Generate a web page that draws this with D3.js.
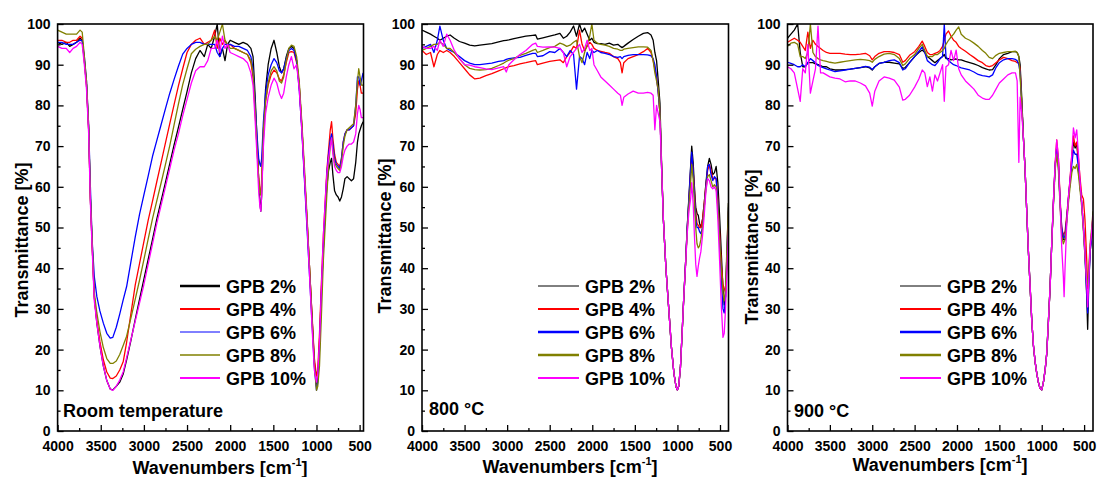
<!DOCTYPE html>
<html>
<head>
<meta charset="utf-8">
<script src="https://cdn.jsdelivr.net/npm/d3@7"></script>
<style>
  body { margin: 0; background: #fff; }
  svg text { font-family: "Liberation Sans", Arial, sans-serif; font-weight: bold; fill: #000; }
</style>
</head>
<body>
<svg id="chart" width="1099" height="477"></svg>
<script>
// ---- data ----
const seriesLabels = ["GPB 2%", "GPB 4%", "GPB 6%", "GPB 8%", "GPB 10%"];
const xTicks = [4000, 3500, 3000, 2500, 2000, 1500, 1000, 500];
const xMinorTicks = [3750, 3250, 2750, 2250, 1750, 1250, 750];
const yTicks = [0, 10, 20, 30, 40, 50, 60, 70, 80, 90, 100];
const yMinorTicks = [5, 15, 25, 35, 45, 55, 65, 75, 85, 95];

// room temperature
const rtWavenumbers = [
  4000, 3950, 3900, 3860, 3820, 3780, 3740, 3715, 3690, 3665,
  3640, 3620, 3600, 3575, 3545, 3510, 3470, 3430, 3390, 3360,
  3320, 3280, 3240, 3200, 3150, 3100, 3050, 3000, 2950, 2900,
  2850, 2800, 2750, 2700, 2650, 2600, 2550, 2500, 2450, 2400,
  2350, 2300, 2260, 2220, 2180, 2150, 2120, 2090, 2060, 2030,
  2000, 1950, 1900, 1850, 1800, 1760, 1735, 1710, 1690, 1670,
  1655, 1645, 1635, 1615, 1590, 1560, 1525, 1492, 1460, 1430,
  1405, 1380, 1350, 1320, 1290, 1260, 1230, 1200, 1170, 1140,
  1110, 1080, 1050, 1025, 1000, 985, 965, 940, 920, 900,
  880, 860, 840, 825, 810, 790, 770, 750, 730, 710,
  690, 670, 645, 620, 595, 570, 545, 525, 510, 495,
  480, 460];
const rtGPB2 = [
  95.5, 95, 95.5, 94.5, 95, 95.5, 96.5, 96, 91, 85,
  74, 57, 46, 33, 26.5, 21, 16, 12.4, 10.3, 10.1,
  11, 12, 14, 17.5, 22.3, 27.4, 32.4, 37.3, 42.2, 47.1,
  52.1, 56.6, 61.1, 65.7, 70.3, 74.6, 79, 83.4, 88, 91.5,
  93.5, 92, 95, 94, 97, 100, 92, 94, 91, 95,
  96, 95.5, 95, 95.5, 95, 94, 92, 82, 72, 62,
  56, 54, 58, 72, 84, 90, 94, 96, 93, 89.5,
  88, 89, 92, 94, 94.5, 94, 91, 85, 75, 63,
  52, 40, 27.5, 17, 11, 13, 22, 36, 45, 53.5,
  60, 64, 66, 67, 63, 59, 58, 57.5, 56.5, 57.5,
  59.5, 62, 62.5, 62, 61.5, 62, 66, 71, 73, 74,
  75, 76];
const rtGPB4 = [
  96, 96, 95.5, 95.5, 96, 96, 97, 96.5, 91, 85,
  74, 57, 46, 33, 27, 22, 17.5, 14.5, 13, 12.9,
  13.5, 15, 17, 21.8, 28.9, 35.9, 41.2, 46.5, 51.8, 56.5,
  61.3, 66, 70.8, 75.5, 80.2, 84.8, 89, 93, 95, 96,
  96.5, 95, 95.5, 96, 98.5, 94, 96.5, 95, 96, 94.5,
  95, 94, 93.5, 93, 92.5, 90.5, 87, 78, 70, 62,
  59, 58, 62, 74, 81, 85, 87.5, 88.7, 88, 86.5,
  86, 87.5, 90.5, 93, 93.2, 93, 90.5, 85, 75, 63.5,
  52, 40, 28, 18, 13.5, 15, 24, 38, 48, 56,
  64, 69, 74, 76, 72, 68, 66, 65.5, 65, 67,
  71, 73, 74, 74, 74.5, 75, 78, 84, 86, 85,
  83, 83];
const rtGPB6 = [
  95.5, 95.5, 95, 95, 95, 95.5, 96, 96, 92, 86,
  75, 60, 47, 38, 33, 29.5, 26.5, 24, 22.8, 23,
  25.5, 28.7, 32.2, 35.5, 41.6, 47.7, 53.3, 58, 62.7, 67.5,
  71.4, 75.3, 79.2, 83, 86.4, 89.6, 92.6, 94, 95, 95.5,
  95.5, 95, 95, 95, 95, 93, 92, 94, 95, 95,
  95, 94.5, 94.5, 94, 93.5, 92, 89, 80, 73, 67,
  65.5, 65, 67, 76, 83, 87.5, 90, 91.5, 90.5, 88.5,
  88, 89, 91.5, 93.5, 94, 93.5, 91, 84, 74, 62,
  50, 38, 26, 16, 10, 12, 20, 35, 45, 54,
  63, 68, 71.5, 73, 70.5, 67, 65.5, 65, 64.5, 67,
  71, 73, 74, 74, 74.5, 75, 80, 87, 87, 85,
  86, 88];
const rtGPB8 = [
  98.5, 98, 97.5, 97.5, 97.5, 97.5, 98.5, 98, 92, 86,
  75, 58, 47, 34, 29, 24.5, 20.5, 17.8, 16.6, 16.6,
  17.2, 18.8, 21, 23.3, 27.8, 32.4, 37.1, 42.1, 47.2, 52.2,
  56.6, 61, 65.5, 70.1, 75.2, 80.3, 85.1, 89, 92.7, 93.8,
  94.5, 95, 95, 96, 97, 96, 98, 100, 96, 95,
  94, 94, 93.5, 93, 92.5, 91, 88, 79, 70, 62,
  58.5, 58, 61, 74, 81, 85.5, 88.5, 89.5, 88.5, 86,
  85.5, 87, 91, 94, 94.8, 94.5, 92, 86, 76, 65,
  53, 40, 27, 16.5, 10, 11, 16, 30, 42, 50,
  58, 65, 70, 72, 69, 66, 65, 64.5, 64, 66,
  70, 72.5, 74, 74.5, 75, 75.5, 80, 86, 89, 87,
  85, 85];
const rtGPB10 = [
  94.5, 94, 94, 93, 94, 94.5, 95.5, 95, 90, 84,
  73, 56, 45, 32, 26.5, 21, 16, 12.4, 10.3, 10,
  11, 12.5, 14.5, 18, 22.5, 27, 31.5, 36, 41, 46,
  51, 55.5, 60, 64.5, 69, 73, 77.5, 81.5, 85.5, 88.5,
  89.5, 89.5, 91, 94, 94, 96, 93, 97, 94, 95,
  93, 92.5, 92, 91.5, 90.5, 88, 85, 76, 68, 59,
  55, 54, 58, 70, 78, 82, 85, 86.7, 85.5, 83,
  81.7, 83, 87, 90, 92, 89, 90, 84, 74, 63,
  51, 38, 25, 15, 12, 14, 22, 37, 48, 56,
  63, 67, 70, 72, 68, 65, 64, 63.5, 63.5, 65,
  67.5, 69, 70, 70.5, 70.5, 71, 73, 78, 80, 79,
  77, 77];

// 800 °C
const hwWavenumbers = [
  4000, 3950, 3900, 3860, 3820, 3790, 3750, 3710, 3670, 3620,
  3560, 3500, 3440, 3380, 3320, 3250, 3180, 3100, 3040, 3010,
  2980, 2920, 2850, 2780, 2700, 2665, 2645, 2580, 2500, 2440,
  2380, 2340, 2300, 2260, 2220, 2185, 2150, 2120, 2090, 2060,
  2030, 2005, 1980, 1940, 1900, 1850, 1800, 1750, 1700, 1670,
  1650, 1630, 1580, 1520, 1460, 1400, 1350, 1310, 1285, 1265,
  1245, 1225, 1205, 1185, 1165, 1135, 1105, 1070, 1040, 1015,
  1000, 985, 965, 945, 925, 905, 885, 865, 845, 832,
  815, 800, 785, 770, 755, 740, 725, 705, 685, 665,
  645, 625, 605, 585, 565, 545, 525, 505, 485, 465,
  450, 435, 420, 400];
const hwGPB2 = [
  98.5, 98, 97.5, 97, 96.5, 96, 96.5, 97, 97.3, 96.5,
  95.7, 95.3, 94.8, 94.6, 94.8, 95, 95.2, 95.6, 95.9, 96,
  96.1, 96.4, 96.7, 97, 97.2, 97.3, 96.3, 96.6, 97, 97.3,
  97.7, 96.5, 97, 98, 99.5, 97, 100, 98, 99, 97.5,
  96, 96.5, 95.5, 95.2, 95.2, 95, 95.3, 94.8, 95, 94.5,
  94.2, 94.5, 95.3, 96.2, 97, 97.7, 97.9, 97.3, 96, 93,
  91, 86, 80.5, 65, 52, 40, 31, 20.5, 14, 10.8,
  10.1, 11, 15.5, 24, 33, 41, 50, 57.5, 65, 70,
  66, 60, 55, 53.5, 53, 51, 50, 52, 56, 61,
  65, 67, 65.5, 63, 63.5, 65, 61, 53, 44, 35,
  31, 33, 43, 56];
const hwGPB4 = [
  93.5, 92.5, 93, 89.5, 92.5, 93.5, 93, 93.5, 93, 92,
  90.5, 89, 87.5, 86.5, 86.7, 87.3, 87.8, 88.5, 89, 89.3,
  89.5, 89.8, 90.2, 90.5, 90.9, 91, 90, 90.4, 90.8, 91,
  91.2, 90.5, 92, 93, 94.5, 94, 98.5, 95, 93.5, 94.5,
  95.5, 95, 94, 93.5, 93.3, 93, 92.8, 92, 91.5, 90.5,
  88, 90.5, 91.5, 92, 92.5, 93.2, 94, 93, 91, 89,
  87, 83, 78, 64.5, 52, 40, 31, 20.5, 14, 10.8,
  10.1, 11, 15.5, 24, 33, 41, 49.5, 56.5, 63.5, 67.5,
  64, 59, 54, 51, 50.5, 50, 50, 52, 56, 60.5,
  64, 65.5, 64, 62, 62, 62, 57, 49, 41, 36,
  35, 34, 40, 54];
const hwGPB6 = [
  94, 94.5, 95, 93, 96, 99.5, 96, 94, 93.5, 93,
  92, 91, 90.4, 90, 90, 90.2, 90.4, 90.8, 91, 91.3,
  91.5, 91.7, 91.8, 92.3, 92.8, 92.8, 92, 92.2, 93.2, 93,
  94, 93, 92, 93.5, 92.5, 84, 92, 91.5, 90, 93,
  91.5, 93.5, 93, 93.5, 93, 92.8, 92.5, 92, 91.8, 92,
  91.5, 92, 92.3, 92.5, 92.5, 92.5, 92.4, 92.2, 91.5, 90,
  87, 83, 78, 64, 52, 40, 31, 20.5, 14, 10.8,
  10.1, 11, 15.5, 24, 33, 41, 50, 57, 64.5, 68.5,
  64, 58, 52, 50, 50, 49, 48.5, 50, 55, 60,
  65, 65.5, 63, 61.5, 62.5, 62, 56, 47, 38, 30,
  29, 33, 42, 55];
const hwGPB8 = [
  93.5, 94, 94.5, 95, 95, 95.5, 95, 94, 94, 93,
  91.5, 90, 89.1, 88.8, 88.7, 88.8, 89.1, 89.8, 90.4, 90.8,
  91.1, 91.5, 92.3, 92.8, 93.5, 93.8, 93, 93.5, 94.2, 94.5,
  95.3, 95, 94.5, 94.8, 95.5, 96, 92, 90.5, 93, 95,
  97, 100, 96, 95.3, 95, 94.8, 94.5, 94, 93.8, 93.5,
  93.5, 93.8, 94, 94.2, 94.4, 94.4, 94.3, 93.5, 91, 88,
  86, 84, 78, 64, 52, 40, 31, 20.5, 14, 10.8,
  10.1, 11, 15.5, 24, 33, 40.5, 49, 55.5, 61, 65.5,
  62, 56, 50, 46, 45, 45.5, 47, 50, 55, 59.5,
  62.5, 63, 61.5, 60, 60.5, 60, 55, 47, 40, 34,
  32, 35, 44, 56];
const hwGPB10 = [
  94.5, 94, 94, 94.5, 93.5, 96, 94.5, 97.5, 96, 93.5,
  91.5, 90, 89.9, 89.5, 89.3, 89, 88.8, 89.2, 89.5, 88.2,
  90, 91.2, 92.5, 93.5, 95, 95.3, 94.5, 94.3, 94.4, 94.3,
  94, 93, 89.5, 92, 93, 94, 95, 93, 94, 96,
  93.5, 94, 90, 88.5, 87, 86, 85, 84, 83, 82.5,
  80, 82, 82.8, 83.5, 83, 83, 83.2, 83, 82.5, 74,
  80, 78, 76, 64, 52, 40, 31, 20.5, 14, 10.8,
  10.1, 11, 15.5, 24, 33, 40.5, 48.5, 54, 57, 61,
  56, 48, 41, 38, 40.5, 42.5, 44, 48, 53, 59,
  62, 61.5, 60, 59.5, 60, 59, 52, 42, 31, 23,
  24, 30, 38, 50];

// 900 °C
const htWavenumbers = [
  4000, 3960, 3920, 3880, 3850, 3820, 3790, 3760, 3730, 3700,
  3670, 3640, 3610, 3580, 3540, 3500, 3440, 3380, 3320, 3260,
  3200, 3140, 3080, 3030, 3000, 2970, 2920, 2860, 2800, 2740,
  2680, 2640, 2610, 2560, 2500, 2450, 2410, 2380, 2350, 2320,
  2290, 2260, 2230, 2200, 2170, 2150, 2130, 2100, 2070, 2040,
  2010, 1980, 1950, 1900, 1850, 1800, 1750, 1700, 1660, 1620,
  1580, 1540, 1500, 1450, 1400, 1350, 1310, 1290, 1270, 1255,
  1236, 1216, 1196, 1177, 1157, 1137, 1118, 1098, 1078, 1059,
  1040, 1020, 1000, 980, 960, 941, 921, 901, 882, 862,
  842, 823, 803, 783, 764, 745, 736, 725, 705, 685,
  665, 645, 626, 606, 587, 567, 547, 528, 508, 490,
  469, 458, 445, 429, 410, 395];
const htGPB2 = [
  96.5, 97.5, 98.5, 100, 93, 89.5, 89.5, 90.5, 90.5, 90.5,
  90.2, 90, 89.8, 89.5, 89.5, 89, 88.7, 88.7, 88.8, 88.9,
  89.1, 89.3, 89.5, 89.2, 88.7, 89.5, 90.3, 90.6, 90.6, 90.4,
  90.2, 89.1, 89.3, 90.5, 92, 93, 93.6, 93, 92, 91.5,
  91, 90.5, 91, 91.5, 92, 92.5, 91.5, 91.5, 91.2, 91.3,
  91.4, 91.2, 91.2, 90.8, 90.5, 90.2, 89.8, 89.3, 89, 88.7,
  88.8, 90, 91.5, 92.5, 92.8, 93.2, 93.2, 93, 92, 90,
  82, 72, 64, 54, 44, 35.5, 27.3, 21, 17, 14.2,
  12, 10.5, 10.1, 12, 15, 19, 27, 35.5, 46, 56,
  65, 70, 66, 56, 49, 47, 47, 47, 52, 57,
  61.5, 67, 71, 69.5, 70.5, 66, 60, 56, 50, 44,
  33, 25, 36, 44, 48, 52];
const htGPB4 = [
  95.5, 96, 96.5, 96, 95.5, 94.5, 93.5, 98, 94, 96,
  95, 94.5, 94, 93.5, 93, 92.8, 92.8, 92.8, 92.6, 92.5,
  92.5, 92.6, 92.8, 92.2, 91.2, 92, 92.8, 93.2, 93.2, 93,
  92.5, 90.6, 91, 92.3, 93.2, 94.5, 95.8, 94.5, 93, 92.5,
  92.5, 92.8, 93, 93.5, 94.5, 96, 97.5, 98.3, 97, 96,
  95.5, 94.5, 94, 93.3, 92.5, 91.8, 91, 90.5, 89.8, 89.5,
  89.8, 90.5, 91.2, 91.8, 91.5, 91, 90.8, 90.5, 90.5, 89,
  80.5, 72, 64, 54, 44, 35.5, 27.3, 21, 17, 14.2,
  12, 10.5, 10.1, 12, 15, 19, 27, 35.5, 46, 56.5,
  65.5, 71.5, 67, 57, 50, 48, 48.5, 49, 53, 57.5,
  62, 68, 72.5, 70, 71, 67, 62, 58, 57, 52,
  42, 35, 38, 45, 49, 53];
const htGPB6 = [
  90.6, 90.3, 90, 89.5, 89.5, 90, 89.5, 90.5, 91.5, 91,
  90.5, 89.8, 89.5, 89.3, 89, 88.7, 88.3, 88.5, 88.7, 88.9,
  89.1, 89.3, 89.6, 89.4, 88.8, 89.5, 90.3, 90.6, 91, 91.2,
  90.5, 88.7, 89, 90.5, 92, 93.3, 94.4, 93, 91, 90.5,
  90, 89.8, 90.5, 91.5, 92, 100, 92, 91, 90.5, 90,
  89.8, 89.5, 89.2, 89, 88.7, 88.2, 87.6, 87.3, 87.2, 87,
  87.5, 89.3, 90.5, 91.2, 91.5, 91.5, 91.3, 91, 90, 88,
  80.5, 72, 64, 54, 44, 35.5, 27.3, 21, 17, 14.2,
  12, 10.5, 10.1, 12, 15, 19, 27, 35.5, 46, 56,
  65, 69.5, 65, 56, 50, 47.5, 47.5, 48, 52, 57,
  61.5, 65.5, 69, 68, 68, 65, 60, 56, 50, 43,
  34, 29, 36, 44, 48, 53];
const htGPB8 = [
  94.5, 95.3, 95.5, 95, 92, 92, 91.5, 93, 100, 93,
  92, 91.5, 91.2, 91, 90.8, 90.6, 90.4, 90.6, 90.8, 91,
  91.2, 91.3, 91.2, 91, 90.6, 91.3, 92, 92.6, 92.8, 92.5,
  91.5, 89.8, 90.2, 91.5, 92.5, 94, 95, 93.5, 92, 92,
  92, 92.5, 92.5, 93, 93.5, 94, 95, 96, 96.8, 97.5,
  98.5, 99.3, 97.5, 96.5, 96, 95.3, 94.5, 93.5, 92.8, 91.8,
  91.5, 92.3, 92.8, 93, 93.2, 93.2, 93.3, 93, 92, 87,
  80.5, 72, 64, 54, 44, 35.5, 27.3, 21, 17, 14.2,
  12, 10.5, 10.1, 12, 15, 19, 27, 35.5, 46, 55.5,
  64, 68, 64, 55, 48, 46, 46.5, 47, 51, 56,
  60, 63.5, 65, 64.5, 65.5, 63, 59, 55, 49, 43,
  37, 36, 40, 46, 50, 54];
const htGPB10 = [
  89.5, 89, 88, 84, 81, 89, 88, 95, 83, 86,
  89, 99.5, 88, 88, 87.5, 87, 86.7, 86.5, 85.8, 86,
  86, 85.5, 84.8, 83, 79.8, 83.5, 86, 87, 86.7, 86.2,
  84.5, 81.3, 81.5, 82.5, 84.5, 86.5, 88.7, 88, 84.6, 87,
  83.5, 87.5, 86, 88, 90, 81, 89.5, 90, 93.5, 91,
  93.6, 89, 87.5, 86, 85, 84, 82.5, 81.8, 81.5, 81.5,
  82.5, 84, 85.5, 86.5, 87.5, 88, 88, 86, 66, 82,
  78, 72, 64, 54, 44, 35.5, 27.3, 21, 17, 14.2,
  12, 10.5, 10.1, 12, 15, 19, 27, 35.5, 46, 56.5,
  65.5, 71.5, 67, 56, 45, 38, 33, 40, 51, 57.5,
  62, 68, 74.5, 72, 74, 68, 61, 56, 50, 44,
  36, 30.5, 37, 45, 49, 53];

// ---- layout ----
const colors = ["#000000", "#ff0000", "#0000ff", "#808000", "#ff00ff"];
const plotTop = 24, plotBottom = 431;

const panels = [
  { wn: rtWavenumbers, series: [rtGPB2, rtGPB4, rtGPB6, rtGPB8, rtGPB10], xEnd: 455,
    left: 57.6, right: 363.5, label: "Room temperature", labelX: 63, labelY: 416.5,
    legX1: 180, legX2: 220, legTextX: 226, legW: [2.5, 2, 1, 1.3, 2],
    yTitle: [28, 240], xTitle: [220, 473.5] },
  { wn: hwWavenumbers, series: [hwGPB2, hwGPB4, hwGPB6, hwGPB8, hwGPB10], xEnd: 400,
    left: 422, right: 728.5, label: "800 °C", labelX: 429, labelY: 415,
    legX1: 538, legX2: 579, legTextX: 585, legW: [1, 2, 2.5, 2.5, 2],
    yTitle: [391, 236], xTitle: [570, 473] },
  { wn: htWavenumbers, series: [htGPB2, htGPB4, htGPB6, htGPB8, htGPB10], xEnd: 395,
    left: 787.5, right: 1093, label: "900 °C", labelX: 794, labelY: 417,
    legX1: 900, legX2: 941, legTextX: 947, legW: [1, 2, 2.5, 2.5, 2],
    yTitle: [758, 247], xTitle: [940, 471] }
];

const svg = d3.select("#chart");

panels.forEach((p, pi) => {
  const x = d3.scaleLinear().domain([4000, p.xEnd]).range([p.left, p.right]);
  const y = d3.scaleLinear().domain([0, 100]).range([plotBottom, plotTop]);
  const g = svg.append("g");

  g.append("clipPath").attr("id", "clip" + pi)
    .append("rect")
    .attr("x", p.left).attr("y", plotTop)
    .attr("width", p.right - p.left).attr("height", plotBottom - plotTop);

  // spectra
  p.series.forEach((vals, si) => {
    if (vals.length !== p.wn.length) console.error("length mismatch", pi, si, vals.length, p.wn.length);
    const line = d3.line()
      .x((d, i) => x(p.wn[i]))
      .y(d => y(d));
    g.append("path")
      .datum(vals)
      .attr("clip-path", `url(#clip${pi})`)
      .attr("fill", "none")
      .attr("stroke", colors[si])
      .attr("stroke-width", 1.3)
      .attr("stroke-linejoin", "round")
      .attr("d", line);
  });

  // axes (ticks point inward)
  const xAxis = g.append("g")
    .attr("transform", `translate(0,${plotBottom})`)
    .call(d3.axisBottom(x).tickValues(xTicks).tickSize(-6).tickSizeOuter(0).tickPadding(10).tickFormat(d3.format("d")));
  g.append("g")
    .attr("transform", `translate(0,${plotBottom})`)
    .call(d3.axisBottom(x).tickValues(xMinorTicks).tickSize(-3).tickSizeOuter(0).tickFormat(""));
  const yAxis = g.append("g")
    .attr("transform", `translate(${p.left},0)`)
    .call(d3.axisLeft(y).tickValues(yTicks).tickSize(-6).tickSizeOuter(0).tickPadding(7));
  g.append("g")
    .attr("transform", `translate(${p.left},0)`)
    .call(d3.axisLeft(y).tickValues(yMinorTicks).tickSize(-3).tickSizeOuter(0).tickFormat(""));

  g.selectAll(".domain").remove();
  g.selectAll(".tick line").attr("stroke", "#000").attr("stroke-width", 1.3);
  xAxis.selectAll("text").style("font-size", "14px");
  yAxis.selectAll("text").style("font-size", "14px");

  // frame
  g.append("rect")
    .attr("x", p.left).attr("y", plotTop)
    .attr("width", p.right - p.left).attr("height", plotBottom - plotTop)
    .attr("fill", "none").attr("stroke", "#000").attr("stroke-width", 1.6);

  // axis titles
  g.append("text")
    .attr("transform", `translate(${p.yTitle[0]},${p.yTitle[1]}) rotate(-90)`)
    .attr("text-anchor", "middle")
    .style("font-size", "18px")
    .text("Transmittance [%]");

  const xt = g.append("text")
    .attr("x", p.xTitle[0]).attr("y", p.xTitle[1])
    .attr("text-anchor", "middle")
    .style("font-size", "18px");
  xt.append("tspan").text("Wavenumbers [cm");
  xt.append("tspan").attr("dy", -8).style("font-size", "11px").text("-1");
  xt.append("tspan").attr("dy", 8).text("]");

  // condition label
  g.append("text")
    .attr("x", p.labelX).attr("y", p.labelY)
    .style("font-size", "18px")
    .text(p.label);

  // legend
  seriesLabels.forEach((name, si) => {
    const ry = 286 + si * 23;
    g.append("line")
      .attr("x1", p.legX1).attr("x2", p.legX2)
      .attr("y1", ry).attr("y2", ry)
      .attr("stroke", colors[si]).attr("stroke-width", p.legW[si]);
    g.append("text")
      .attr("x", p.legTextX).attr("y", ry + 6.5)
      .style("font-size", "18px")
      .text(name);
  });
});
</script>
</body>
</html>
